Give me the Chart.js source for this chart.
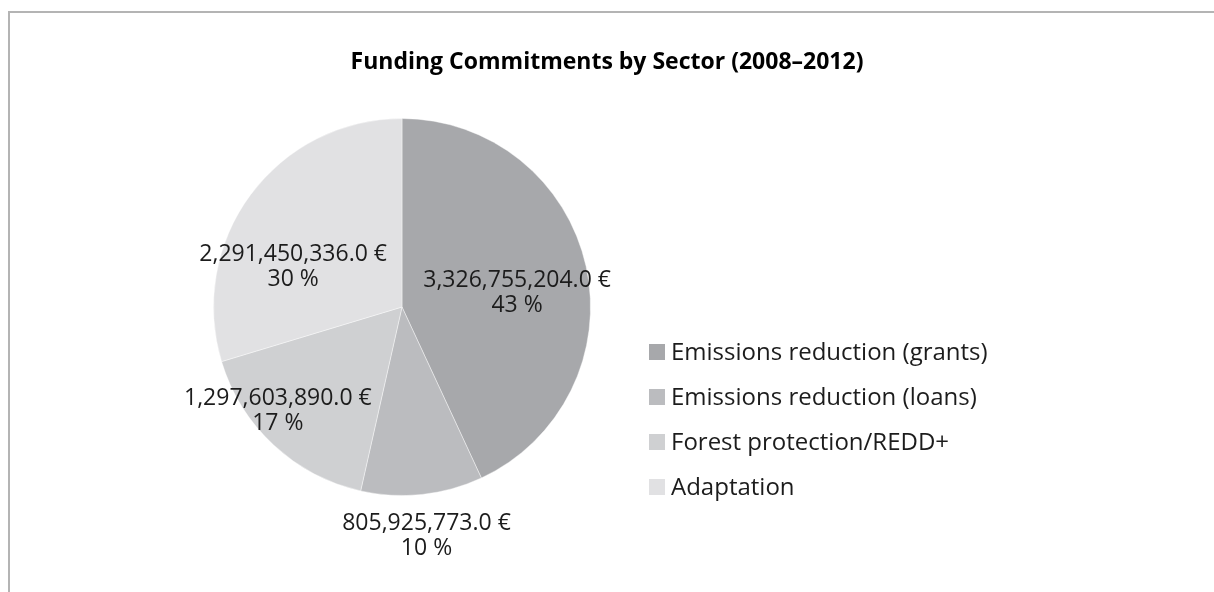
<!DOCTYPE html>
<html>
<head>
<meta charset="utf-8">
<script src="https://cdn.jsdelivr.net/npm/chart.js@4.4.1/dist/chart.umd.min.js"></script>
<style>
  html, body { margin: 0; padding: 0; background: #fff; overflow: hidden; }
  #wrap { position: relative; width: 1214px; height: 592px; }
  #frame {
    position: absolute; left: 8px; top: 11px; width: 1300px; height: 700px;
    border-top: 2px solid #b4b4b4; border-left: 2px solid #b4b4b4;
  }
  #fundingChart { position: absolute; left: 0; top: 0; }
</style>
</head>
<body>
<div id="wrap">
  <div id="frame"></div>
  <canvas id="fundingChart" width="1214" height="592"></canvas>
</div>
<script>
const chartTitle = 'Funding Commitments by Sector (2008–2012)';
const sectors = [
    'Emissions reduction (grants)',
    'Emissions reduction (loans)',
    'Forest protection/REDD+',
    'Adaptation'
];
const commitments = [3326755204.0, 805925773.0, 1297603890.0, 2291450336.0];
const sectorColors = ['#a7a8ab', '#bbbcbf', '#cfd0d2', '#e1e1e3'];

const FONT = '"Open Sans", "DejaVu Sans", sans-serif';

function formatEuro(v) {
    return v.toLocaleString('en-US', { minimumFractionDigits: 1, maximumFractionDigits: 1 }) + ' €';
}

// title centred across the whole canvas (the pie itself sits off-centre)
const pageTitle = {
    id: 'pageTitle',
    afterDraw(chart, args, opts) {
        const ctx = chart.ctx;
        ctx.save();
        ctx.font = 'bold 23px ' + FONT;
        ctx.fillStyle = '#000';
        ctx.textAlign = 'center';
        ctx.textBaseline = 'middle';
        ctx.fillText(opts.text, chart.width / 2, opts.y);
        ctx.restore();
    }
};

// value + percentage labels: inside the bigger slices, outside the small ones
const sliceLabels = {
    id: 'sliceLabels',
    afterDatasetsDraw(chart) {
        const ctx = chart.ctx;
        const meta = chart.getDatasetMeta(0);
        const values = chart.data.datasets[0].data;
        const total = values.reduce((a, b) => a + b, 0);
        ctx.save();
        ctx.font = '23px ' + FONT;
        ctx.fillStyle = '#1c1c1c';
        ctx.textAlign = 'center';
        ctx.textBaseline = 'middle';
        meta.data.forEach((arc, i) => {
            const share = values[i] / total;
            let angle = (arc.startAngle + arc.endAngle) / 2;
            let k = 0.615, pull = 0.45;
            if (share < 0.25) { k = 0.86; pull = 0.15; }
            if (share < 0.12) { k = 1.22; pull = 0; }
            // lean the label towards the horizontal axis
            const flat = Math.cos(angle) >= 0 ? 0 : Math.PI;
            let diff = Math.atan2(Math.sin(flat - angle), Math.cos(flat - angle));
            angle += diff * pull;
            const r = arc.outerRadius * k;
            const x = arc.x + Math.cos(angle) * r;
            const y = arc.y + Math.sin(angle) * r;
            ctx.fillText(formatEuro(values[i]), x, y - 12.5);
            ctx.fillText(Math.round(share * 100) + ' %', x, y + 12.5);
        });
        ctx.restore();
    }
};

// legend column to the right of the pie
const sideLegend = {
    id: 'sideLegend',
    afterDraw(chart, args, opts) {
        const ctx = chart.ctx;
        const ds = chart.data.datasets[0];
        ctx.save();
        ctx.font = '24px ' + FONT;
        ctx.textBaseline = 'middle';
        ctx.textAlign = 'left';
        chart.data.labels.forEach((label, i) => {
            const y = opts.top + i * opts.step;
            ctx.fillStyle = ds.backgroundColor[i];
            ctx.fillRect(opts.left, y - 8, 16, 16);
            ctx.fillStyle = '#1c1c1c';
            ctx.fillText(label, opts.left + 22, y + 1);
        });
        ctx.restore();
    }
};

const ctx = document.getElementById('fundingChart').getContext('2d');
const fundingChart = new Chart(ctx, {
    type: 'pie',
    data: {
        labels: sectors,
        datasets: [{
            data: commitments,
            backgroundColor: sectorColors,
            borderColor: 'rgba(255,255,255,0.4)',
            borderWidth: 1
        }]
    },
    options: {
        responsive: false,
        animation: false,
        layout: { padding: { left: 0, right: 410, top: 118, bottom: 96 } },
        plugins: {
            title: { display: false },
            legend: { display: false },
            tooltip: { enabled: false },
            pageTitle: { text: chartTitle, y: 62 },
            sideLegend: { left: 649, top: 352, step: 45 }
        }
    },
    plugins: [sliceLabels, sideLegend, pageTitle]
});
</script>
</body>
</html>
